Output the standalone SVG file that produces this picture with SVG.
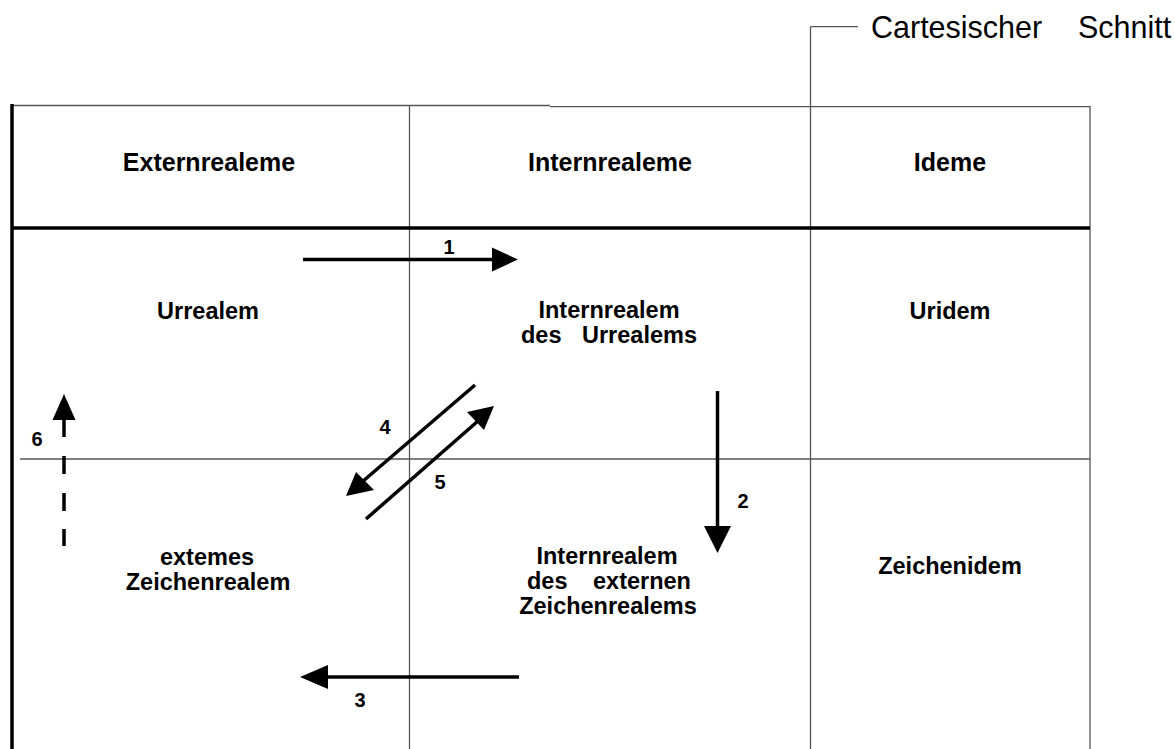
<svg xmlns="http://www.w3.org/2000/svg" width="1175" height="749" viewBox="0 0 1175 749">
<style>
.thin{stroke:#555;stroke-width:1.3;fill:none}
.thick{stroke:#000;stroke-width:3.5;fill:none}
.arr{stroke:#000;stroke-width:3.5;fill:none}
.hd{fill:#000}
.lbl{font-family:"Liberation Sans",Arial,sans-serif;font-weight:bold;font-size:23.5px;fill:#000;text-anchor:middle}
.hdr{font-family:"Liberation Sans",Arial,sans-serif;font-weight:bold;font-size:25px;fill:#000;text-anchor:middle}
.num{font-family:"Liberation Sans",Arial,sans-serif;font-weight:bold;font-size:20px;fill:#000;text-anchor:middle}
.cap{font-family:"Liberation Sans",Arial,sans-serif;font-size:30.5px;fill:#000}
</style>
<rect width="1175" height="749" fill="#fff"/>
<g id="grid">
<line class="thin" x1="12" y1="105.5" x2="550" y2="105.5"/>
<line class="thin" x1="550" y1="106.7" x2="1090" y2="106.7"/>
<line class="thin" x1="409.5" y1="106" x2="409.5" y2="749"/>
<line class="thin" x1="810.5" y1="26.7" x2="810.5" y2="749"/>
<line class="thin" x1="1090" y1="106" x2="1090" y2="749"/>
<line class="thin" x1="20" y1="459" x2="1090" y2="459"/>
<line class="thick" x1="12" y1="228" x2="1090" y2="228"/>
<line class="thick" x1="12" y1="104" x2="12" y2="749"/>
<line class="thin" x1="810.5" y1="26.7" x2="858" y2="26.7"/>
</g>
<text class="cap" y="38"><tspan x="871">Cartesischer</tspan><tspan x="1078">Schnitt</tspan></text>
<g id="header">
<text class="hdr" x="209" y="171">Externrealeme</text>
<text class="hdr" x="610" y="171">Internrealeme</text>
<text class="hdr" x="950" y="171">Ideme</text>
</g>
<g id="n-urrealem"><text class="lbl" x="208" y="319">Urrealem</text></g>
<g id="n-internrealem-urrealems"><text class="lbl" x="609" y="318">Internrealem</text><text class="lbl" y="343" style="text-anchor:start"><tspan x="521">des</tspan><tspan x="582">Urrealems</tspan></text></g>
<g id="n-uridem"><text class="lbl" x="950" y="319">Uridem</text></g>
<g id="n-externes"><text class="lbl" x="207" y="565">extemes</text><text class="lbl" x="208" y="590">Zeichenrealem</text></g>
<g id="n-internrealem-externen"><text class="lbl" x="607" y="564">Internrealem</text><text class="lbl" y="589" style="text-anchor:start"><tspan x="527">des</tspan><tspan x="593">externen</tspan></text><text class="lbl" x="608" y="614">Zeichenrealems</text></g>
<g id="n-zeichenidem"><text class="lbl" x="950" y="574">Zeichenidem</text></g>
<g id="connectors">
<line class="arr" x1="303" y1="259.5" x2="495" y2="259.5"/>
<polygon class="hd" points="518,259.5 492,247.5 492,271.5"/>
<line class="arr" x1="717.5" y1="391" x2="717.5" y2="530"/>
<polygon class="hd" points="717.5,553 704,526 731,526"/>
<line class="arr" x1="519" y1="677" x2="325" y2="677"/>
<polygon class="hd" points="300,677 328,665 328,689"/>
<line class="arr" x1="475" y1="385" x2="362" y2="482"/>
<polygon class="hd" points="346,496 356,472 374,490"/>
<line class="arr" x1="366" y1="519" x2="478" y2="421"/>
<polygon class="hd" points="494,406 484,430 467,412"/>
<line class="arr" x1="64" y1="437" x2="64" y2="418"/>
<line class="arr" x1="64" y1="456" x2="64" y2="474"/>
<line class="arr" x1="64" y1="493" x2="64" y2="511"/>
<line class="arr" x1="64" y1="529" x2="64" y2="546"/>
<polygon class="hd" points="64,394 52.5,420 75.5,420"/>
</g>
<g id="labels">
<text class="num" x="449" y="254">1</text>
<text class="num" x="743" y="508">2</text>
<text class="num" x="360" y="707">3</text>
<text class="num" x="385" y="434">4</text>
<text class="num" x="440" y="489">5</text>
<text class="num" x="37" y="446">6</text>
</g>
</svg>
